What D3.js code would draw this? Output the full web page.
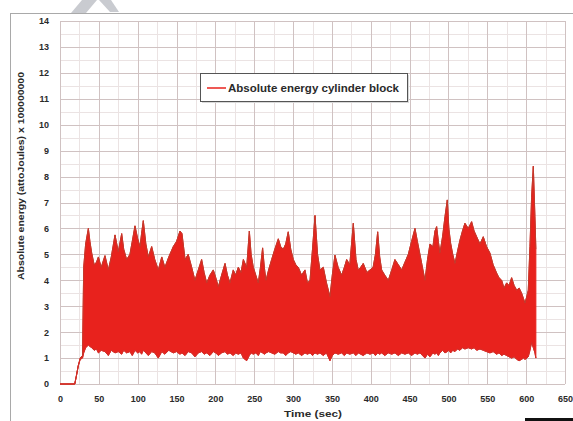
<!DOCTYPE html>
<html><head><meta charset="utf-8">
<script src="https://cdn.jsdelivr.net/npm/d3@7"></script>
<style>
html,body{margin:0;padding:0;background:#fff;}
svg{display:block;}
text{font-family:"Liberation Sans",Arial,sans-serif;font-weight:bold;fill:#2a2a2a;}
</style></head>
<body>
<svg id="c" width="573" height="421"></svg>
<script>
// ---- data ----
const timeSec = [0,19,21,23.5,26,29,30.5,33,36.5,38.5,40.8,44,47,49.4,53,57.9,62.2,66,70.8,75,79.4,82,85.8,90,93,96.5,100,103,105,107.2,110.5,113.7,118,122,126.5,131,135,140,145.8,150,154.4,157,161,165,169.5,173.7,178,182.3,185.5,188.8,193,197.3,200.5,203.8,208,212.4,215.5,218.8,223,226,229.5,233,236,240.3,243.7,246,248.8,252,255.2,258,260.8,263,265.1,268.5,272.4,276.5,281,284,287.4,290.5,293.8,297,300.3,303.5,306.7,311,315.3,318.5,321.8,325,328.2,331.5,334.6,338.9,343,347.5,350.5,353.9,358,362.5,366,369,373,377.5,381,383.9,387,390.3,395,399,403,406,408.9,411.5,414,418,422.6,427,431.1,435.5,439.8,444,448.3,452.5,456.9,460,463.3,466.5,469.8,473,476.2,480,482.6,484.8,487,489,492.5,495.5,498.5,500.5,502.8,505.5,508.4,511.5,514.8,518,521.2,525.5,529.8,533,536.3,540.5,544.8,549,553.4,557.5,562,565,568.5,571.5,574.9,578,581.3,584.5,587.8,591,594.2,596.5,598.5,601,602.7,604.9,607,609.2,611.3,612.5];
const upperEnergy = [0,0,0.3,0.7,1.0,1.1,4.5,5.4,6.0,5.5,5.05,4.6,4.7,4.9,4.5,4.95,4.4,4.9,5.75,5.1,5.8,5.2,4.8,5.0,5.5,6.1,5.6,5.3,5.8,6.3,5.4,4.9,5.3,4.8,4.4,4.9,4.5,4.9,5.3,5.5,5.9,5.8,4.8,5.0,4.5,4.0,4.4,4.8,4.3,3.9,4.2,4.4,4.1,3.75,4.2,4.65,4.2,3.9,4.4,4.2,4.5,4.3,4.8,4.5,5.9,5.0,4.5,4.2,3.9,4.5,5.25,4.5,4.0,4.4,4.8,5.2,5.6,5.3,5.2,5.4,5.87,5.2,4.8,4.6,4.5,4.2,4.4,3.9,4.0,5.2,6.5,5.0,4.4,4.5,3.9,3.37,4.2,4.97,4.5,4.2,4.5,4.8,4.6,6.2,4.8,4.4,4.5,4.65,4.3,4.4,4.5,5.0,5.87,4.9,4.4,4.2,4.0,4.4,4.8,4.6,4.4,4.7,5.0,5.5,6.0,5.5,5.0,4.5,4.0,4.8,5.4,5.3,5.9,6.07,5.5,5.05,5.7,6.45,7.1,6.0,5.43,5.0,4.65,5.1,5.55,5.9,6.2,6.0,6.26,5.9,5.68,5.4,5.68,5.3,5.05,4.6,4.28,4.1,4.0,3.7,3.9,3.8,4.1,3.8,3.62,3.7,3.5,3.3,3.12,3.4,3.62,5.3,7.2,8.4,6.45,5.2];
const lowerEnergy = [0,0,0.3,0.7,0.95,1.0,1.2,1.4,1.5,1.45,1.4,1.3,1.35,1.2,1.3,1.25,1.1,1.3,1.2,1.25,1.15,1.3,1.2,1.25,1.1,1.3,1.2,1.25,1.15,1.3,1.2,1.1,1.25,1.2,1.0,1.25,1.15,1.3,1.2,1.25,1.15,1.2,1.1,1.25,1.2,1.05,1.2,1.25,1.15,1.2,1.1,1.25,1.2,1.1,1.2,1.25,1.15,1.2,1.1,1.2,1.15,1.2,1.0,0.9,1.1,1.2,1.15,1.2,1.1,1.25,1.2,1.15,1.2,1.25,1.2,1.15,1.25,1.2,1.2,1.1,1.2,1.25,1.2,1.15,1.2,1.1,1.2,1.15,1.2,1.1,1.2,1.15,1.2,1.1,1.2,0.9,1.1,1.2,1.15,1.2,1.1,1.2,1.15,1.2,1.1,1.2,1.15,1.1,1.2,1.15,1.2,1.1,1.2,1.15,1.2,1.1,1.2,1.15,1.2,1.1,1.2,1.15,1.2,1.1,1.2,1.15,1.2,1.1,1.0,1.15,1.05,1.2,1.15,1.2,1.1,1.2,1.3,1.2,1.25,1.3,1.2,1.3,1.25,1.35,1.3,1.4,1.35,1.4,1.35,1.4,1.3,1.35,1.3,1.25,1.2,1.25,1.15,1.2,1.1,1.15,1.1,1.05,1.0,1.05,0.95,0.9,0.95,1.0,0.95,1.0,1.05,1.3,1.6,1.4,1.2,1.0];
const xTicks = [0,50,100,150,200,250,300,350,400,450,500,550,600,650];
const yTicks = [0,1,2,3,4,5,6,7,8,9,10,11,12,13,14];
const seriesName = "Absolute energy cylinder block";
const xTitle = "Time (sec)";
const yTitle = "Absolute energy (attoJoules) x 100000000";

// ---- drawing ----
const svg = d3.select("#c");
const x = d3.scaleLinear().domain([0,650]).range([60,565]);
const y = d3.scaleLinear().domain([0,14]).range([384,21]);

// outer frame
svg.append("line").attr("x1",10.5).attr("x2",10.5).attr("y1",13).attr("y2",421).attr("stroke","#a9a9a9");
svg.append("line").attr("x1",10).attr("x2",573).attr("y1",13.5).attr("y2",13.5).attr("stroke","#a9a9a9");
// watermark stroke at top
svg.append("polygon").attr("points","71,13 82,0 97,0 86,13").attr("fill","#c9cbd0");
svg.append("polygon").attr("points","99,0 111,0 119,12 110,12").attr("fill","#c9cbd0");

// minor grid
const g = svg.append("g");
d3.range(0.5,14,1).forEach(v=>g.append("line").attr("x1",x(0)).attr("x2",x(650)).attr("y1",Math.round(y(v))+0.5).attr("y2",Math.round(y(v))+0.5).attr("stroke","#ebe3e3"));
d3.range(25,650,50).forEach(v=>g.append("line").attr("y1",y(0)).attr("y2",y(14)).attr("x1",Math.round(x(v))+0.5).attr("x2",Math.round(x(v))+0.5).attr("stroke","#ebe3e3"));
// major grid
yTicks.forEach(v=>g.append("line").attr("x1",x(0)).attr("x2",x(650)).attr("y1",Math.round(y(v))+0.5).attr("y2",Math.round(y(v))+0.5).attr("stroke","#d0c2c2"));
xTicks.forEach(v=>g.append("line").attr("y1",y(0)).attr("y2",y(14)).attr("x1",Math.round(x(v))+0.5).attr("x2",Math.round(x(v))+0.5).attr("stroke","#d0c2c2"));

// series band
const pts = timeSec.map((t,i)=>({t, hi:upperEnergy[i], lo:lowerEnergy[i]}));
const area = d3.area().x(d=>x(d.t)).y0(d=>y(d.lo)).y1(d=>y(d.hi));
svg.append("path").datum(pts).attr("d",area).attr("fill","#e8221d").attr("stroke","#e8221d").attr("stroke-width",1);
svg.append("path").datum(pts).attr("d",d3.line().x(d=>x(d.t)).y(d=>y(d.hi))).attr("fill","none").attr("stroke","#c23a2c").attr("stroke-width",1);
svg.append("path").datum(pts).attr("d",d3.line().x(d=>x(d.t)).y(d=>y(d.lo))).attr("fill","none").attr("stroke","#d1302a").attr("stroke-width",1);

// axes
const ax = svg.append("g").attr("transform",`translate(0,${y(0)+9})`)
  .call(d3.axisBottom(x).tickValues(xTicks).tickSize(0).tickPadding(3));
ax.select(".domain").remove();
ax.selectAll("text").style("font-size","9px").style("font-family","Liberation Sans, Arial, sans-serif").style("font-weight","bold").attr("fill","#2a2a2a");
const ay = svg.append("g").attr("transform",`translate(49,0)`)
  .call(d3.axisLeft(y).tickValues(yTicks).tickSize(0).tickPadding(0));
ay.select(".domain").remove();
ay.selectAll("text").style("font-size","9px").style("font-family","Liberation Sans, Arial, sans-serif").style("font-weight","bold").attr("fill","#2a2a2a");

svg.append("text").attr("x",313).attr("y",417).attr("text-anchor","middle").style("font-size","9.5px")
  .attr("textLength",58).attr("lengthAdjust","spacingAndGlyphs").text(xTitle);
svg.append("text").attr("transform","translate(23.5,176) rotate(-90)").attr("text-anchor","middle").style("font-size","9.5px")
  .attr("textLength",208).attr("lengthAdjust","spacingAndGlyphs").text(yTitle);

// legend
svg.append("rect").attr("x",202).attr("y",75).attr("width",207).attr("height",28).attr("fill","#d8d8d8");
svg.append("rect").attr("x",200.5).attr("y",73.5).attr("width",207).attr("height",28).attr("fill","#fff").attr("stroke","#555");
svg.append("line").attr("x1",207).attr("x2",226).attr("y1",88).attr("y2",88).attr("stroke","#e8221d").attr("stroke-width",1.5);
svg.append("text").attr("x",228).attr("y",91.5).style("font-size","10px")
  .attr("textLength",171).attr("lengthAdjust","spacingAndGlyphs").text(seriesName);

// corner artifact
svg.append("rect").attr("x",525).attr("y",418).attr("width",48).attr("height",3).attr("fill","#111");
</script>
</body></html>
